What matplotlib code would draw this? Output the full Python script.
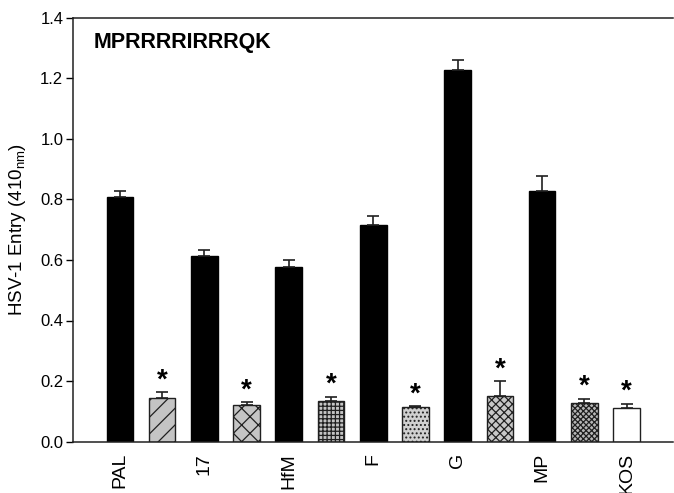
import numpy as np
import matplotlib.pyplot as plt

plt.rcParams['font.family'] = ['Liberation Sans', 'DejaVu Sans']
plt.rcParams['hatch.linewidth'] = 0.9

strains = ["PAL", "17", "HfM", "F", "G", "MP", "KOS"]
# black bars = control, patterned bars = peptide treated
control = [0.807, 0.613, 0.577, 0.715, 1.227, 0.827]
control_err = [0.022, 0.020, 0.024, 0.030, 0.032, 0.049]
treated = [0.143, 0.121, 0.135, 0.113, 0.152, 0.127, 0.110]
treated_err = [0.020, 0.010, 0.013, 0.005, 0.048, 0.015, 0.015]

# styling of the treated bars
hatches = ["//", "xx", "++++", "....", "xxxx", "xxxxxx", ""]
fills = ["#c4c4c4", "#c4c4c4", "#c4c4c4", "#d0d0d0", "#c8c8c8", "#b8b8b8", "white"]

fig = plt.figure(figsize=(6.74, 4.93), dpi=100)
ax = fig.add_axes([73/674, 1-441.7/493, 600/674, (441.7-17.5)/493])

xc = np.arange(len(control)) * 2
xt = np.arange(len(treated)) * 2 + 1
xt[-1] = 12  # KOS has no paired control

w = 0.63
ax.bar(xc, control, width=w, color="black", edgecolor="black", linewidth=1,
       yerr=[np.zeros(len(control)), control_err], capsize=4.5,
       error_kw=dict(elinewidth=1.2, capthick=1.2, ecolor="#202020"), zorder=2)
for i in range(len(treated)):
    ax.bar(xt[i], treated[i], width=w, color=fills[i], edgecolor="#202020",
           linewidth=1, hatch=hatches[i],
           yerr=[[0], [treated_err[i]]], capsize=4.5,
           error_kw=dict(elinewidth=1.2, capthick=1.2, ecolor="#202020"), zorder=2)
    ax.text(xt[i], treated[i] + treated_err[i] - 0.004, "*", ha="center", va="bottom",
            fontsize=20, fontweight="bold")

ax.set_xlim(-1.11, 13.1)
ax.set_ylim(0, 1.4)
ax.set_yticks(np.arange(0, 1.41, 0.2))
ax.set_yticklabels(["%.1f" % v for v in np.arange(0, 1.41, 0.2)], fontsize=12)
ax.set_xticks([0, 2, 4, 6, 8, 10, 12])
ax.set_xticklabels(strains, rotation=90, fontsize=14)
ax.tick_params(axis="x", length=0, pad=8)
ax.tick_params(axis="y", direction="out", length=5, width=1, pad=2)

ax.set_ylabel("HSV-1 Entry (410$_{\\mathregular{nm}}$)", fontsize=13.5, labelpad=9)
ax.text(0.034, 0.94, "MPRRRRIRRRQK", transform=ax.transAxes, fontsize=15.5,
        fontweight="bold", va="center", ha="left")

ax.spines["right"].set_visible(False)
for s in ["left", "bottom", "top"]:
    ax.spines[s].set_linewidth(1.1)
    ax.spines[s].set_color("#202020")

fig.savefig("out.png", dpi=100)
